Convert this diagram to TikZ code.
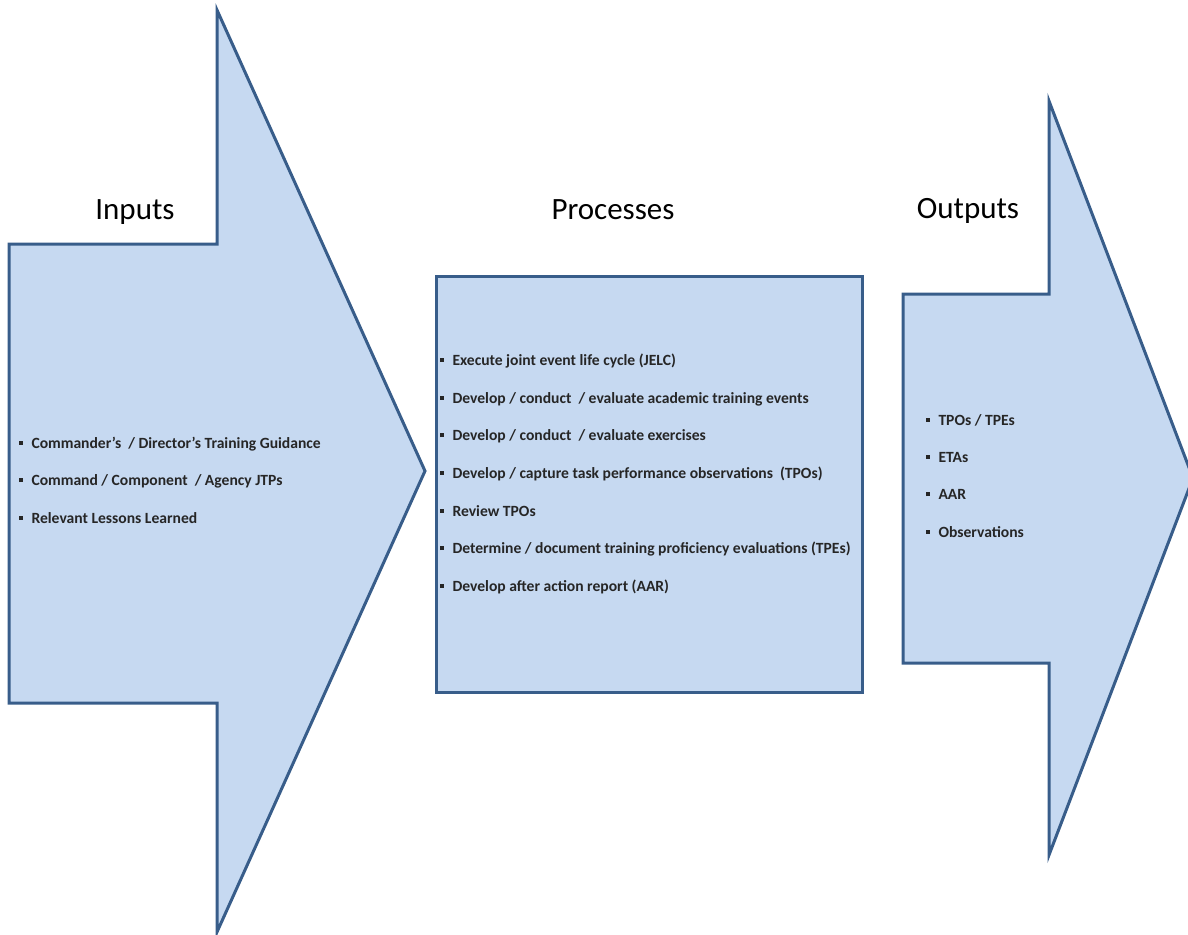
\documentclass[tikz,border=0pt]{standalone}
\usepackage{fontspec}
\setmainfont{Carlito}

\definecolor{arrowfill}{HTML}{C6D9F1}
\definecolor{arrowline}{HTML}{385D8A}

\newcommand{\sqbullet}{\rule[3.5pt]{3.8pt}{3.8pt}\hspace{8.5pt}}

\tikzset{arrow body/.style={draw=arrowline,fill=arrowfill,line width=3pt,line join=miter},
heading/.style={font=\fontsize{31}{37}\selectfont,anchor=base,inner sep=0pt},
bullet line/.style={font=\fontsize{15.6}{18}\selectfont\bfseries,anchor=base west,inner sep=0pt,text=black!85}}

\begin{document}
\begin{tikzpicture}[x=1pt,y=-1pt]
\useasboundingbox (0,0) rectangle (1188,934);
\clip (0,0) rectangle (1188,934);

%% Coordinates of shape corners.
\coordinate (in1) at (9,244);
\coordinate (in2) at (217,244);
\coordinate (in3) at (217,10);
\coordinate (in4) at (425,471);
\coordinate (in5) at (217,932);
\coordinate (in6) at (217,703);
\coordinate (in7) at (9,703);
\coordinate (pr1) at (436,276);
\coordinate (pr2) at (862,692);
\coordinate (out1) at (903,294);
\coordinate (out2) at (1049,294);
\coordinate (out3) at (1049,101);
\coordinate (out4) at (1193,478);
\coordinate (out5) at (1049,855);
\coordinate (out6) at (1049,663);
\coordinate (out7) at (903,663);

%% shapes
\draw [arrow body] (in1) -- (in2) -- (in3) -- (in4) -- (in5) -- (in6) -- (in7) -- cycle;
\draw [arrow body] (pr1) rectangle (pr2);
\draw [arrow body] (out1) -- (out2) -- (out3) -- (out4) -- (out5) -- (out6) -- (out7) -- cycle;

%% headings
\node [heading] (inputs) at (135,219) {Inputs};
\node [heading] (processes) at (613,219) {Processes};
\node [heading] (outputs) at (968,218) {Outputs};

%% input items
\node [bullet line] (in-a) at (19,448) {\sqbullet Commander’s\ \ / Director’s Training Guidance};
\node [bullet line] (in-b) at (19,485.5) {\sqbullet Command / Component\ \ / Agency JTPs};
\node [bullet line] (in-c) at (19,523) {\sqbullet Relevant Lessons Learned};

%% process items
\node [bullet line] (pr-a) at (440,365) {\sqbullet Execute joint event life cycle (JELC)};
\node [bullet line] (pr-b) at (440,403) {\sqbullet Develop / conduct\ \ / evaluate academic training events};
\node [bullet line] (pr-c) at (440,440.5) {\sqbullet Develop / conduct\ \ / evaluate exercises};
\node [bullet line] (pr-d) at (440,478) {\sqbullet Develop / capture task performance observations\ \ (TPOs)};
\node [bullet line] (pr-e) at (440,516) {\sqbullet Review TPOs};
\node [bullet line] (pr-f) at (440,553.5) {\sqbullet Determine / document training proficiency evaluations (TPEs)};
\node [bullet line] (pr-g) at (440,591) {\sqbullet Develop after action report (AAR)};

%% output items
\node [bullet line] (out-a) at (926,425) {\sqbullet TPOs / TPEs};
\node [bullet line] (out-b) at (926,462) {\sqbullet ETAs};
\node [bullet line] (out-c) at (926,499.5) {\sqbullet AAR};
\node [bullet line] (out-d) at (926,537) {\sqbullet Observations};

\end{tikzpicture}
\end{document}
